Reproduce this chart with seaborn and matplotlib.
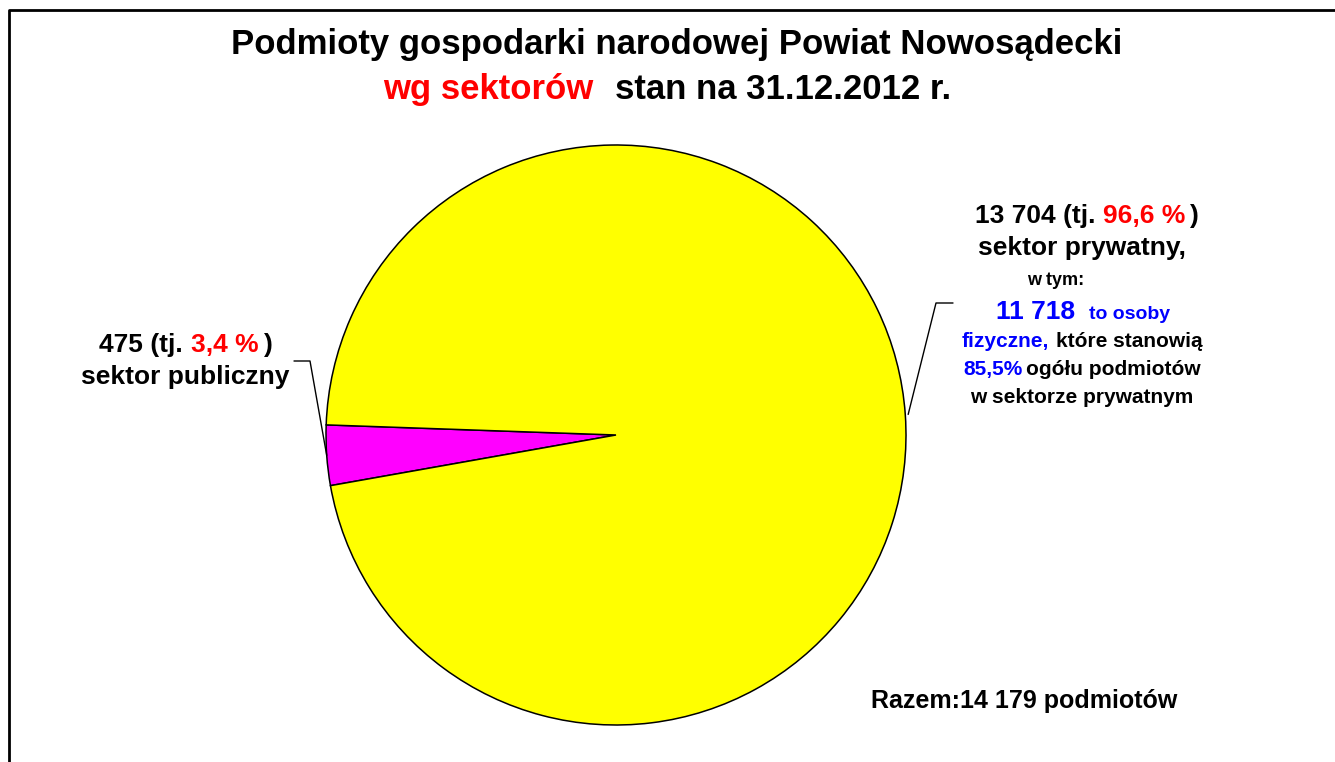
import numpy as np
import matplotlib
matplotlib.use("Agg")
import matplotlib.pyplot as plt
import seaborn as sns
from matplotlib.lines import Line2D
from matplotlib.transforms import IdentityTransform

# ---- data ----
sectors = ["sektor publiczny", "sektor prywatny"]
counts = [475, 13704]
colors = ["#FF00FF", "#FFFF00"]

sns.set_theme(style="white")
plt.rcParams['font.family'] = ['Liberation Sans', 'DejaVu Sans']
plt.rcParams['font.weight'] = 'bold'

W, H = 1335, 762
fig = plt.figure(figsize=(W / 100, H / 100), dpi=100)
fig.patch.set_facecolor("white")

cx, cy, r = 616, 435, 290
ax = fig.add_axes([(cx - r) / W, (H - cy - r) / H, 2 * r / W, 2 * r / H])
pal = sns.color_palette(colors)
wedges, _ = ax.pie(counts, colors=pal, startangle=178, counterclock=True,
                   wedgeprops=dict(edgecolor="black", linewidth=1.1), radius=1.0)
ax.set_xlim(-1, 1)
ax.set_ylim(-1, 1)
ax.set_aspect("equal")
ax.axis("off")


def px2d(px, py):
    return (px - cx) / r, (cy - py) / r


def leader(wedge, hx0, hx1, hy, rr=1.0):
    mid = np.deg2rad((wedge.theta1 + wedge.theta2) / 2)
    ex, ey = rr * np.cos(mid), rr * np.sin(mid)
    x0, y0 = px2d(hx0, hy)
    x1, _ = px2d(hx1, hy)
    ax.add_line(Line2D([x0, x1, ex], [y0, y0, ey], color="black", lw=1.0,
                       clip_on=False))


leader(wedges[0], 294, 310, 361, 1.0)
leader(wedges[1], 953, 936, 303, 1.01)

renderer = fig.canvas.get_renderer()


def line(xc, yb, segs):
    texts = []
    widths = []
    for txt, col, size, gap in segs:
        t = fig.text(0, 0, txt, color=col, fontsize=size, fontweight="bold",
                     transform=IdentityTransform(), va="baseline", ha="left")
        texts.append(t)
        widths.append(t.get_window_extent(renderer).width)
    total = sum(widths) + sum(s[3] for s in segs)
    x = xc - total / 2
    for t, w, s in zip(texts, widths, segs):
        x += s[3]
        t.set_position((x, H - yb))
        x += w


BLK, RED, BLU = "black", "#FF0000", "#0000FF"

line(677, 54, [("Podmioty gospodarki narodowej Powiat Nowosądecki", BLK, 25, 0)])
line(667, 99, [("wg sektorów", RED, 25, 0), ("stan na 31.12.2012 r.", BLK, 25, 22)])

line(186, 352, [("475 (tj.", BLK, 19, 0), ("3,4 %", RED, 19, 8), (")", BLK, 19, 5)])
line(185, 384, [("sektor publiczny", BLK, 19, 0)])

line(1087, 223, [("13 704 (tj.", BLK, 19, 0), ("96,6 %", RED, 19, 8), (")", BLK, 19, 5)])
line(1082, 255, [("sektor prywatny,", BLK, 19, 0)])
line(1056, 285, [("w tym:", BLK, 13, 0)])
line(1083, 319, [("11 718", BLU, 19, 0), ("to osoby", BLU, 14, 14)])
line(1082, 347, [("fizyczne,", BLU, 15, 0), ("które stanowią", BLK, 15, 7)])
line(1082, 375, [("85,5%", BLU, 15, 0), ("ogółu podmiotów", BLK, 15, 4)])
line(1082, 403, [("w sektorze prywatnym", BLK, 15, 0)])

line(1024, 708, [("Razem:14 179 podmiotów", BLK, 18, 0)])

# frame (cropped at right and bottom)
fig.add_artist(Line2D([9 / W, 9 / W, 1.0], [0.0, 1 - 9.5 / H, 1 - 9.5 / H],
                      transform=fig.transFigure, color="black", lw=2.0))

fig.savefig("out.png", dpi=100, facecolor="white")
